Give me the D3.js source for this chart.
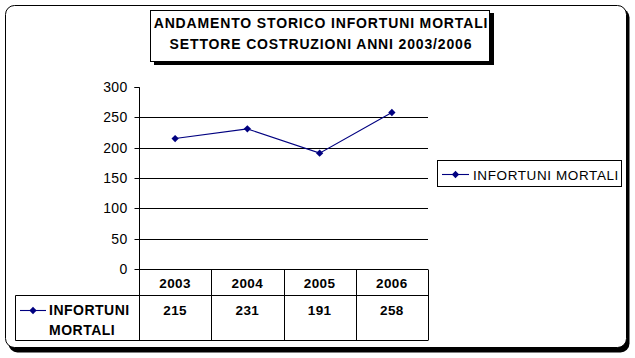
<!DOCTYPE html>
<html><head><meta charset="utf-8">
<script src="https://cdn.jsdelivr.net/npm/d3@7"></script>
<style>body{margin:0;background:#fff}svg{display:block}text{font-family:"Liberation Sans",Arial,sans-serif}</style>
</head><body>
<svg id="c" width="635" height="358"></svg>
<script>
const categories = ["2003","2004","2005","2006"];
const seriesName = "INFORTUNI MORTALI";
const values = [215, 231, 191, 258];
const yTicks = [0, 50, 100, 150, 200, 250, 300];
const titleLines = ["ANDAMENTO STORICO INFORTUNI MORTALI", "SETTORE COSTRUZIONI ANNI 2003/2006"];

const svg = d3.select("#c");
const navy = "#000080";

// outer frame with shadow
svg.append("rect").attr("x",8.5).attr("y",8.5).attr("width",621).attr("height",344).attr("rx",9).attr("fill","#000");
svg.append("rect").attr("x",5.5).attr("y",5.5).attr("width",621).attr("height",342).attr("rx",9).attr("fill","#fff").attr("stroke","#000");

// title box with shadow
svg.append("rect").attr("x",154).attr("y",13).attr("width",340).attr("height",52).attr("fill","#000");
svg.append("rect").attr("x",150.5).attr("y",10.5).attr("width",339).attr("height",51).attr("fill","#fff").attr("stroke","#000");
svg.selectAll("text.title").data(titleLines).enter().append("text")
  .attr("x",321).attr("y",(d,i)=>28+i*21).attr("text-anchor","middle")
  .attr("font-size",14).attr("font-weight","bold").attr("letter-spacing",0.85).text(d=>d);

const x = d3.scaleBand().domain(categories).range([139,428]);
const y = d3.scaleLinear().domain([0,300]).range([269,87]);

// gridlines
const g = svg.append("g");
g.selectAll("line.grid").data(yTicks.filter(t=>t>0 && t<300)).enter().append("line")
  .attr("x1",139).attr("x2",428).attr("y1",d=>Math.round(y(d))+0.5).attr("y2",d=>Math.round(y(d))+0.5)
  .attr("stroke","#000");

// y axis
const yAxis = d3.axisLeft(y).tickValues(yTicks).tickSize(5).tickPadding(7);
const ya = svg.append("g").attr("transform","translate(139.5,0)").call(yAxis);
ya.select(".domain").attr("d","M-5,"+(Math.round(y(300))+0.5)+"H0V"+(y(0)));
ya.selectAll(".tick").attr("transform",d=>"translate(0,"+(Math.round(y(d))+0.5)+")");
ya.selectAll("text").attr("font-size",14).attr("font-family","'Liberation Sans',Arial,sans-serif").attr("fill","#000").attr("letter-spacing",0.3);
ya.selectAll("line").attr("stroke","#000");
ya.select(".domain").attr("stroke","#000");

// line
const cx = d => x(d) + x.bandwidth()/2;
const line = d3.line().x((d,i)=>cx(categories[i])).y(d=>y(d));
svg.append("path").datum(values).attr("d",line).attr("fill","none").attr("stroke",navy).attr("stroke-width",1.1);
const diamond = d3.symbol().type(d3.symbolDiamond2).size(34);
svg.selectAll("path.mk").data(values).enter().append("path")
  .attr("transform",(d,i)=>"translate("+cx(categories[i])+","+y(d)+")")
  .attr("d",diamond).attr("fill",navy);

// data table
const t = svg.append("g").attr("stroke","#000").attr("fill","none");
const top0 = 269.5, mid = 295.5, bot = 340.5;
t.append("line").attr("x1",139).attr("x2",428).attr("y1",top0).attr("y2",top0);
t.append("line").attr("x1",15.5).attr("x2",428).attr("y1",mid).attr("y2",mid);
t.append("line").attr("x1",15.5).attr("x2",428).attr("y1",bot).attr("y2",bot);
t.append("line").attr("x1",15.5).attr("x2",15.5).attr("y1",mid).attr("y2",bot);
const cols = categories.map(c=>x(c)).concat([x.range()[1]]);
t.selectAll("line.v").data(cols).enter().append("line")
  .attr("x1",d=>Math.round(d)+0.5).attr("x2",d=>Math.round(d)+0.5).attr("y1",top0).attr("y2",bot);
svg.selectAll("text.yr").data(categories).enter().append("text")
  .attr("x",d=>cx(d)).attr("y",288).attr("text-anchor","middle")
  .attr("font-size",13.5).attr("font-weight","bold").attr("letter-spacing",0.4).text(d=>d);
svg.selectAll("text.val").data(values).enter().append("text")
  .attr("x",(d,i)=>cx(categories[i])).attr("y",315).attr("text-anchor","middle")
  .attr("font-size",13.5).attr("font-weight","bold").attr("letter-spacing",0.4).text(d=>d);
// row header
svg.append("line").attr("x1",20).attr("x2",46).attr("y1",310.5).attr("y2",310.5).attr("stroke",navy).attr("stroke-width",1.1);
svg.append("path").attr("transform","translate(33,310.5)").attr("d",diamond).attr("fill",navy);
const hdr = seriesName.split(" ");
svg.selectAll("text.hdr").data(hdr).enter().append("text")
  .attr("x",49).attr("y",(d,i)=>315+i*20).attr("font-size",14).attr("font-weight","bold").attr("letter-spacing",0.5).text(d=>d);

// legend
svg.append("rect").attr("x",437.5).attr("y",160.5).attr("width",184).attr("height",26).attr("fill","#fff").attr("stroke","#000");
svg.append("line").attr("x1",442).attr("x2",469).attr("y1",174.5).attr("y2",174.5).attr("stroke",navy).attr("stroke-width",1.1);
svg.append("path").attr("transform","translate(455.5,174.5)").attr("d",diamond).attr("fill",navy);
svg.append("text").attr("x",473).attr("y",179.5).attr("font-size",13.5).attr("letter-spacing",0.6).text(seriesName);
</script>
</body></html>
